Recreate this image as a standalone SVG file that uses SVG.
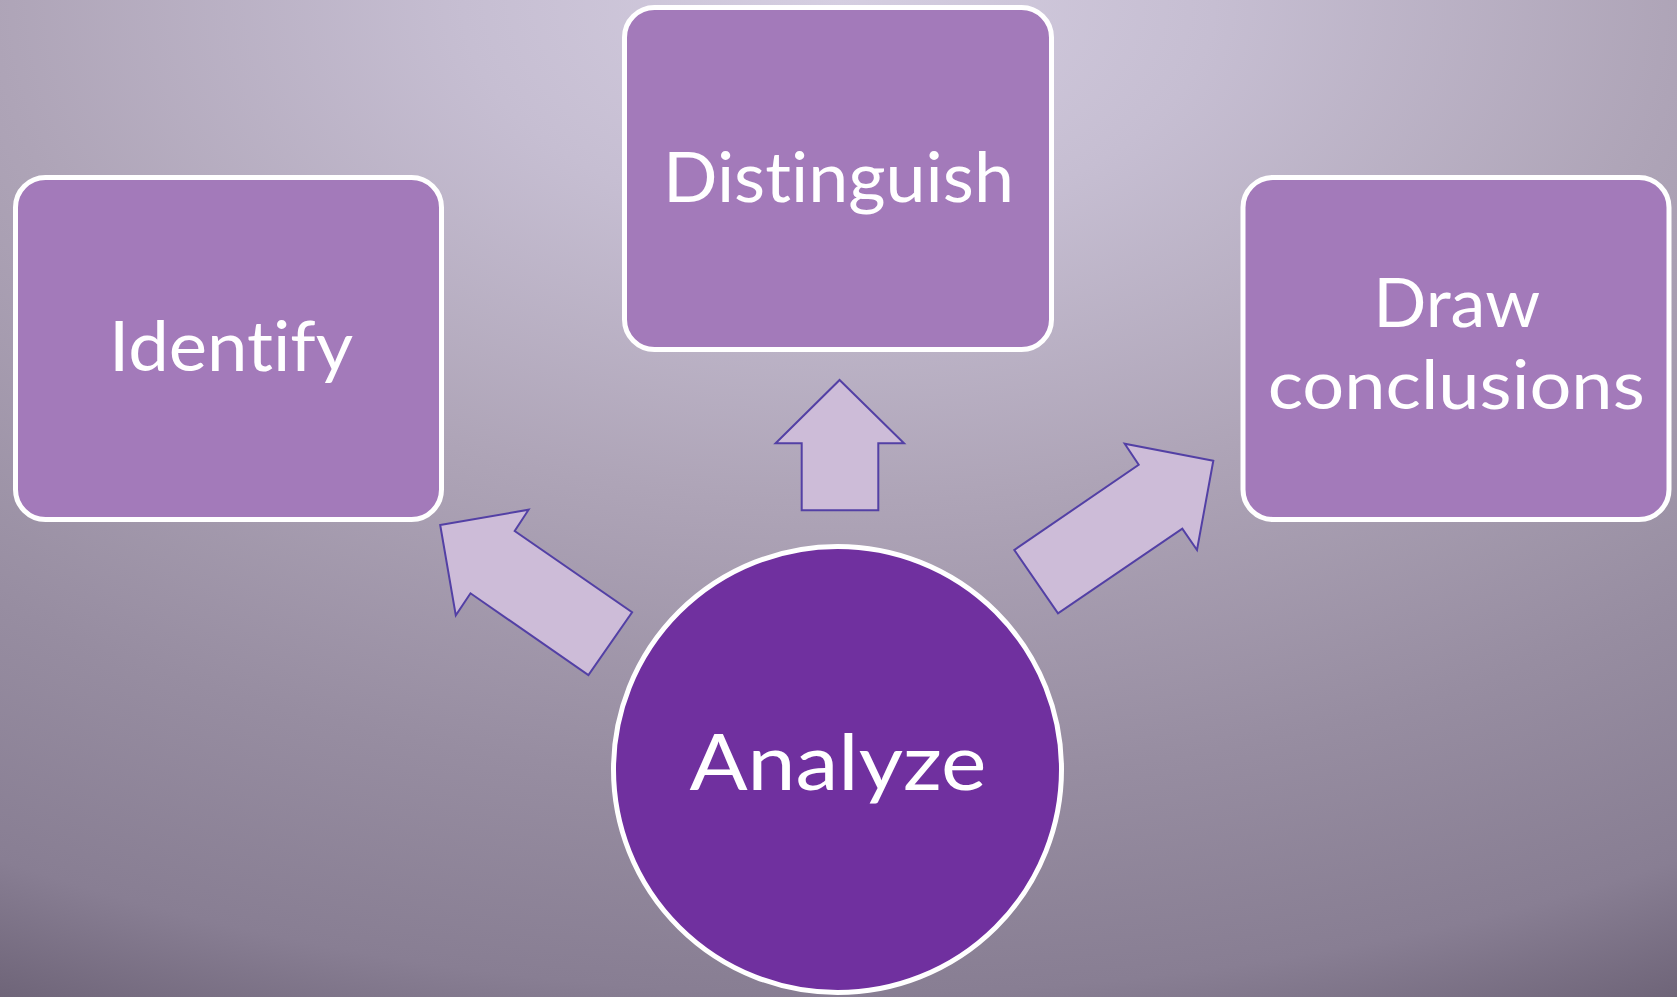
<svg xmlns="http://www.w3.org/2000/svg" width="1677" height="997" viewBox="0 0 1677 997">
<defs>
<radialGradient id="bg" cx="0.5" cy="0" r="1.12" fx="0.5" fy="0">
<stop offset="0" stop-color="#d5cee1"/>
<stop offset="0.2" stop-color="#c6bed2"/>
<stop offset="0.45" stop-color="#aea4b7"/>
<stop offset="0.7" stop-color="#978da1"/>
<stop offset="0.89" stop-color="#887e93"/>
<stop offset="1" stop-color="#6e6478"/>
</radialGradient>
<style>
.box{fill:#a37aba;stroke:#ffffff;stroke-width:5}
.hub{fill:#70309f;stroke:#ffffff;stroke-width:5}
.arrow{fill:#cdbcd8;stroke:#5340a5;stroke-width:2;stroke-linejoin:miter}
.lbl{font-family:Lato,"Open Sans","Liberation Sans",sans-serif;fill:#ffffff;text-anchor:middle;font-variant-ligatures:none;font-feature-settings:"liga" 0,"clig" 0,"dlig" 0}
.s70{font-size:70px}
.s68{font-size:68px}
.s77{font-size:77px}
</style>
</defs>
<rect x="0" y="0" width="1677" height="997" fill="url(#bg)"/>
<g id="connectors">
<polygon class="arrow" points="440.2,525 528.6,509.7 514.7,531 632.1,612.3 588.4,675 470.5,593.3 455.8,615.3"/>
<polygon class="arrow" points="839.6,380 904,443.3 878.3,443.3 878.3,510.3 801.7,510.3 801.7,443.3 775.6,443.3"/>
<polygon class="arrow" points="1213.3,460.7 1124.7,443.7 1138.7,464.7 1014.3,550 1058,613.3 1182.3,528.7 1197,550"/>
</g>
<g id="node-identify">
<rect class="box" x="15.5" y="177.5" width="426" height="342" rx="30" ry="30"/>
<text class="lbl s70" x="231" y="371" textLength="244" lengthAdjust="spacingAndGlyphs">Identify</text>
</g>
<g id="node-distinguish">
<rect class="box" x="624.5" y="7.5" width="427" height="342" rx="30" ry="30"/>
<text class="lbl s70" x="838.5" y="202" textLength="351" lengthAdjust="spacingAndGlyphs">Distinguish</text>
</g>
<g id="node-draw-conclusions">
<rect class="box" x="1243" y="177.5" width="426" height="342" rx="30" ry="30"/>
<text class="lbl s68" x="1456.7" y="326.7" textLength="167" lengthAdjust="spacingAndGlyphs">Draw</text>
<text class="lbl s68" x="1456.2" y="409.3" textLength="377" lengthAdjust="spacingAndGlyphs">conclusions</text>
</g>
<g id="node-analyze">
<ellipse class="hub" cx="837.5" cy="769.5" rx="224" ry="223"/>
<text class="lbl s77" x="838" y="790" textLength="297" lengthAdjust="spacingAndGlyphs">Analyze</text>
</g>
</svg>
